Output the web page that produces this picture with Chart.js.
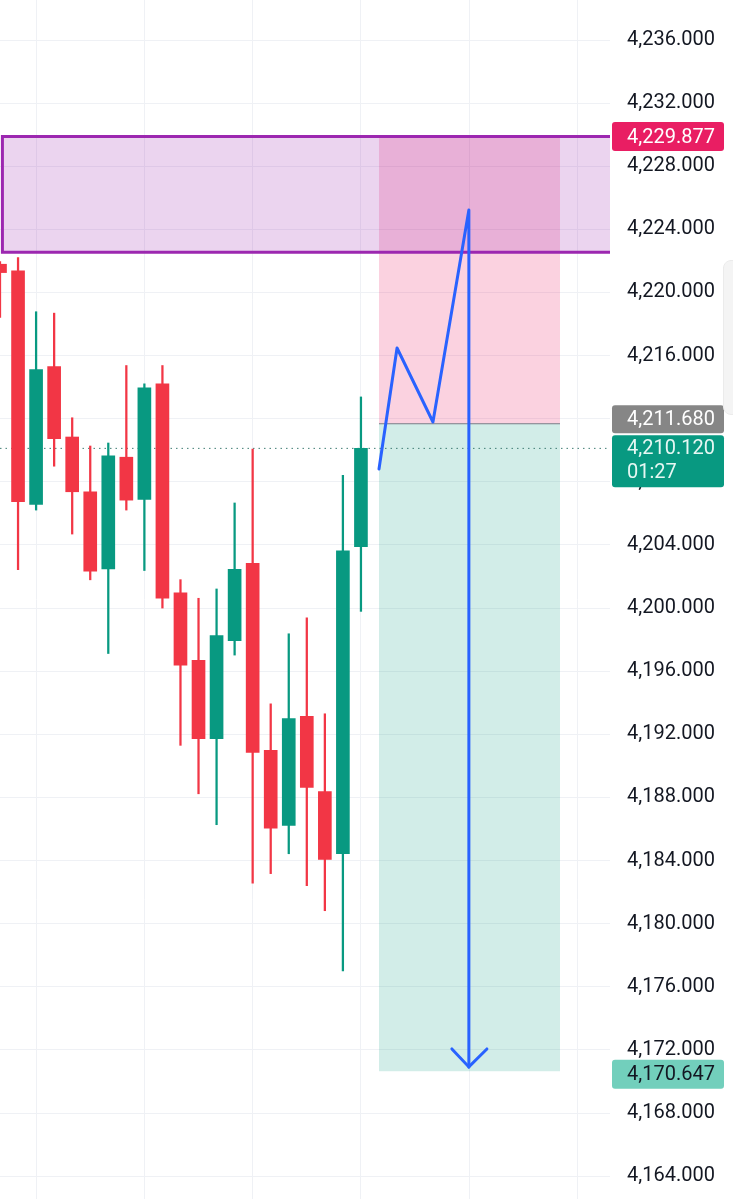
<!DOCTYPE html>
<html>
<head>
<meta charset="utf-8">
<title>XAUUSD short setup</title>
<script src="https://cdn.jsdelivr.net/npm/chart.js@4.4.1/dist/chart.umd.min.js"></script>
<style>
  html, body { margin: 0; padding: 0; background: #fff; }
  #wrap { position: relative; width: 733px; height: 1199px; overflow: hidden; }
  #scrollHandle {
    position: absolute; left: 723px; top: 260px; width: 16px; height: 153px;
    background: #f4f4f4; border: 1px solid #ebebeb; border-radius: 8px;
  }
</style>
</head>
<body>
<div id="wrap">
  <canvas id="candleChart"></canvas>
  <div id="scrollHandle"></div>
</div>
<script>
// ---candle data---
const opens  = [4221.79, 4221.37, 4206.57, 4215.31, 4210.84, 4207.37, 4202.48, 4209.56, 4206.88, 4214.21, 4200.97,
                4196.68, 4191.73, 4197.94, 4202.83, 4190.98, 4186.23, 4193.14, 4188.37, 4184.43, 4203.89];
const highs  = [4221.95, 4222.21, 4218.78, 4218.69, 4212.06, 4210.27, 4210.46, 4215.37, 4214.21, 4215.37, 4201.80,
                4200.62, 4201.21, 4206.66, 4210.08, 4193.93, 4198.37, 4199.38, 4193.30, 4208.41, 4213.38];
const lows   = [4218.42, 4202.44, 4206.21, 4208.99, 4204.69, 4201.79, 4197.12, 4206.21, 4202.38, 4200.00, 4191.30,
                4188.23, 4186.27, 4197.02, 4182.56, 4183.17, 4184.43, 4182.40, 4180.82, 4177.00, 4199.79];
const closes = [4221.26, 4206.74, 4215.12, 4210.74, 4207.37, 4202.34, 4209.64, 4206.84, 4213.96, 4200.63, 4196.38,
                4191.73, 4198.26, 4202.45, 4190.85, 4186.05, 4192.99, 4188.64, 4184.07, 4203.62, 4210.12];

// price axis ticks
const priceTicks = [4164, 4168, 4172, 4176, 4180, 4184, 4188, 4192, 4196, 4200, 4204, 4208,
                    4212, 4216, 4220, 4224, 4228, 4232, 4236];
const timeGrid = [2, 8, 14, 20, 26, 32];

// ---drawings---
const zoneTop = 4229.877, zoneBottom = 4222.55, zoneStart = 0.05;
const posStart = 21.0, posEnd = 31.03;
const entryPrice = 4211.68, stopPrice = 4229.877, targetPrice = 4170.647;
const lastPrice = 4210.12, countdown = "01:27";

const pathX = [21.0, 22.0, 23.99, 25.98, 25.98];
const pathY = [4208.81, 4216.48, 4211.79, 4225.23, 4170.92];
const arrowX = [25.04, 25.98, 26.98];
const arrowY = [4172.06, 4170.92, 4172.06];

const UP = "#089981", DOWN = "#f23645";
const idx = opens.map((o, i) => i);
const candleColors = idx.map(i => closes[i] >= opens[i] ? UP : DOWN);

function fmt(v) {
  return v.toLocaleString("en-US", { minimumFractionDigits: 3, maximumFractionDigits: 3 });
}

// ---overlay plugin---
const overlayPlugin = {
  id: "overlays",
  beforeDatasetsDraw(chart) {
    const ctx = chart.ctx, xs = chart.scales.x, ys = chart.scales.y, area = chart.chartArea;
    ctx.save();

    // position tool (short)
    const px1 = xs.getPixelForValue(posStart), px2 = xs.getPixelForValue(posEnd);
    const yEntry = ys.getPixelForValue(entryPrice);
    const yStop = ys.getPixelForValue(stopPrice);
    const yTarget = ys.getPixelForValue(targetPrice);
    ctx.fillStyle = "rgba(233, 30, 99, 0.2)";
    ctx.fillRect(px1, yStop, px2 - px1, yEntry - yStop);
    ctx.fillStyle = "rgba(8, 153, 129, 0.18)";
    ctx.fillRect(px1, yEntry, px2 - px1, yTarget - yEntry);
    ctx.strokeStyle = "#787b86";
    ctx.lineWidth = 1;
    ctx.beginPath();
    ctx.moveTo(px1, yEntry);
    ctx.lineTo(px2, yEntry);
    ctx.stroke();

    // supply zone rectangle
    const zx = xs.getPixelForValue(zoneStart) + 1.5;
    const zt = ys.getPixelForValue(zoneTop), zb = ys.getPixelForValue(zoneBottom);
    ctx.fillStyle = "rgba(156, 39, 176, 0.2)";
    ctx.fillRect(zx, zt, area.right - zx, zb - zt);
    ctx.strokeStyle = "#9c27b0";
    ctx.lineWidth = 3;
    ctx.beginPath();
    ctx.moveTo(area.right, zt);
    ctx.lineTo(zx, zt);
    ctx.lineTo(zx, zb);
    ctx.lineTo(area.right, zb);
    ctx.stroke();

    // last price dotted line
    const yLast = ys.getPixelForValue(lastPrice);
    ctx.strokeStyle = "#3f7d73";
    ctx.lineWidth = 1;
    ctx.setLineDash([1.5, 4]);
    ctx.beginPath();
    ctx.moveTo(area.left, yLast);
    ctx.lineTo(area.right, yLast);
    ctx.stroke();
    ctx.restore();
  },
  afterDraw(chart) {
    const ctx = chart.ctx, ys = chart.scales.y, area = chart.chartArea;
    const lx = area.right + 2, lw = 112, h = 29;
    ctx.save();
    ctx.font = "20px Roboto";
    ctx.textBaseline = "middle";
    ctx.textAlign = "left";

    function box(top, height, bg) {
      ctx.fillStyle = bg;
      ctx.beginPath();
      ctx.roundRect(lx, top, lw, height, 3);
      ctx.fill();
    }

    // stop
    let yy = ys.getPixelForValue(stopPrice);
    box(yy - h / 2, h, "#e91e63");
    ctx.fillStyle = "#ffffff";
    ctx.fillText(fmt(stopPrice), area.right + 17, yy + 1);

    // last price + countdown
    const yLast = ys.getPixelForValue(lastPrice);
    const lastTop = yLast - 13;
    box(lastTop, 52, UP);
    ctx.fillStyle = "#e6f7f3";
    ctx.fillText(fmt(lastPrice), area.right + 17, lastTop + 14);
    ctx.fillText(countdown, area.right + 17, lastTop + 38);

    // entry (pushed up so it does not cover the last price)
    yy = ys.getPixelForValue(entryPrice);
    let et = Math.min(yy - h / 2, lastTop - h - 1);
    box(et, h - 1, "#868686");
    ctx.fillStyle = "#ffffff";
    ctx.fillText(fmt(entryPrice), area.right + 17, et + h / 2);

    // target
    yy = ys.getPixelForValue(targetPrice);
    box(yy - h / 2 + 3, h, "#72cfbc");
    ctx.fillStyle = "#131722";
    ctx.fillText(fmt(targetPrice), area.right + 17, yy + 4);
    ctx.restore();
  }
};

// ---chart---
const ctxC = document.getElementById("candleChart").getContext("2d");
const candleChart = new Chart(ctxC, {
  type: "bar",
  data: {
    datasets: [
      {
        type: "line",
        data: pathX.map((x, i) => ({ x: x, y: pathY[i] })),
        borderColor: "#2962ff",
        borderWidth: 3,
        pointRadius: 0,
        fill: false,
        tension: 0,
        borderCapStyle: "round",
        borderJoinStyle: "round",
        order: 0
      },
      {
        type: "line",
        data: arrowX.map((x, i) => ({ x: x, y: arrowY[i] })),
        borderColor: "#2962ff",
        borderWidth: 3,
        pointRadius: 0,
        fill: false,
        tension: 0,
        borderCapStyle: "round",
        borderJoinStyle: "miter",
        order: 0
      },
      {
        label: "body",
        data: idx.map(i => ({ x: i, y: [opens[i], closes[i]] })),
        backgroundColor: candleColors,
        borderWidth: 0,
        barThickness: 13,
        grouped: false,
        order: 1
      },
      {
        label: "wick",
        data: idx.map(i => ({ x: i, y: [lows[i], highs[i]] })),
        backgroundColor: candleColors,
        borderWidth: 0,
        barThickness: 1.6,
        grouped: false,
        order: 2
      }
    ]
  },
  options: {
    responsive: true,
    maintainAspectRatio: false,
    animation: false,
    layout: { padding: 0 },
    plugins: { legend: { display: false }, tooltip: { enabled: false } },
    events: [],
    scales: {
      x: {
        type: "linear",
        min: 0,
        max: 33.8,
        offset: false,
        afterBuildTicks: (s) => { s.ticks = timeGrid.map(v => ({ value: v })); },
        afterFit: (s) => { s.height = 0; s.paddingLeft = 0; s.paddingRight = 0; },
        ticks: { display: false },
        grid: { color: "#eff1f5", drawTicks: false, lineWidth: 1, offset: false },
        border: { display: false }
      },
      y: {
        type: "linear",
        position: "right",
        min: 4162.55,
        max: 4238.535,
        afterBuildTicks: (s) => { s.ticks = priceTicks.map(v => ({ value: v })); },
        afterFit: (s) => { s.width = 123; s.paddingTop = 0; s.paddingBottom = 0; },
        ticks: {
          color: "#131722",
          font: { family: "Roboto", size: 20 },
          padding: 17,
          callback: (v) => fmt(v)
        },
        grid: { color: "#eff1f5", drawTicks: false, lineWidth: 1 },
        border: { display: false }
      }
    }
  },
  plugins: [overlayPlugin]
});
</script>
</body>
</html>
